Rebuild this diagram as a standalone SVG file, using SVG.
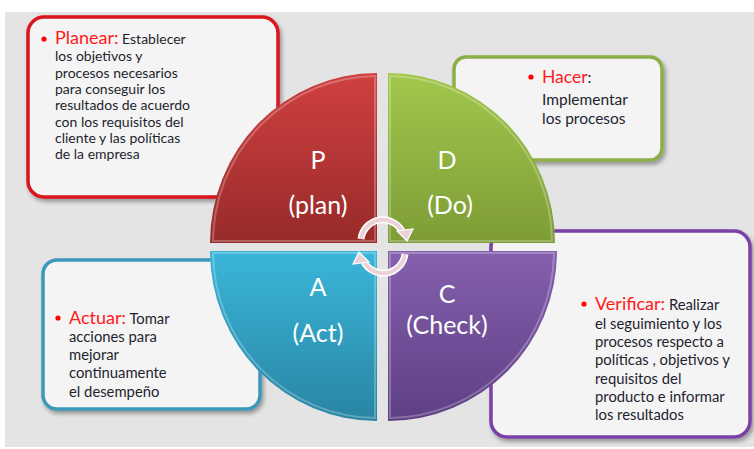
<svg xmlns="http://www.w3.org/2000/svg" width="754" height="449" viewBox="0 0 754 449">
<defs>
<style>
.box{fill:#f4f4f4;stroke-width:3.5}
.t{font-family:Lato,"Open Sans","Liberation Sans",sans-serif;fill:#1f1f2f}
.k{fill:#ff1a1a}
.q{font-family:Lato,"Open Sans","Liberation Sans",sans-serif;fill:#ffffff;font-size:25px;text-anchor:middle}
.bul{fill:#ff0000}
.arc{fill:none;stroke-linecap:butt}
</style>
<filter id="sh" x="-10%" y="-10%" width="130%" height="130%">
<feDropShadow dx="2" dy="3" stdDeviation="2" flood-color="#000" flood-opacity="0.35"/>
</filter>
<linearGradient id="gr" x1="0" y1="0" x2="0" y2="1"><stop offset="0" stop-color="#d04040"/><stop offset="1" stop-color="#982a2a"/></linearGradient>
<linearGradient id="gg" x1="0" y1="0" x2="0" y2="1"><stop offset="0" stop-color="#a2c84c"/><stop offset="1" stop-color="#7d9c37"/></linearGradient>
<linearGradient id="gb" x1="0" y1="0" x2="0" y2="1"><stop offset="0" stop-color="#3ab6da"/><stop offset="1" stop-color="#2985a3"/></linearGradient>
<linearGradient id="gp" x1="0" y1="0" x2="0" y2="1"><stop offset="0" stop-color="#8560ae"/><stop offset="1" stop-color="#5e3f84"/></linearGradient>
</defs>
<rect x="0" y="0" width="754" height="449" fill="#ffffff"/>
<rect x="5" y="12" width="749" height="435" fill="#e4e4e4"/>

<g id="box-plan" filter="url(#sh)">
<rect class="box" x="28" y="17" width="250" height="180" rx="16" stroke="#d9141c"/>
</g>
<g id="box-do" filter="url(#sh)">
<rect class="box" x="454" y="57" width="208" height="103" rx="12" stroke="#8bae47"/>
</g>
<g id="box-check" filter="url(#sh)">
<rect class="box" x="491" y="231" width="259" height="206" rx="16" stroke="#7a40a6"/>
</g>
<g id="box-act" filter="url(#sh)">
<rect class="box" x="43" y="260" width="217" height="149" rx="14" stroke="#3b98b8"/>
</g>

<g id="quad-p">
<path d="M377,243 L210,243 A167,170 0 0 1 377,73 Z" fill="url(#gr)"/>
<path d="M375,241 L213,241 A164,167 0 0 1 375,76 Z" fill="none" stroke="#ffffff" stroke-opacity="0.25" stroke-width="2"/>
</g>
<g id="quad-d">
<path d="M388,243 L388,73 A167,170 0 0 1 555,243 Z" fill="url(#gg)"/>
<path d="M390,241 L390,76 A164,167 0 0 1 552,241 Z" fill="none" stroke="#ffffff" stroke-opacity="0.25" stroke-width="2"/>
</g>
<g id="quad-a">
<path d="M377,251 L377,421 A167,170 0 0 1 210,251 Z" fill="url(#gb)"/>
<path d="M375,253 L375,418 A164,167 0 0 1 213,253 Z" fill="none" stroke="#ffffff" stroke-opacity="0.25" stroke-width="2"/>
</g>
<g id="quad-c">
<path d="M388,251 L557,251 A169,170 0 0 1 388,421 Z" fill="url(#gp)"/>
<path d="M390,253 L554,253 A166,167 0 0 1 390,418 Z" fill="none" stroke="#ffffff" stroke-opacity="0.25" stroke-width="2"/>
</g>

<g id="connectors">
<path class="arc" d="M361,239 A22,22 0 0 1 402,231" stroke="#ffffff" stroke-width="7"/>
<path class="arc" d="M361,239 A22,22 0 0 1 402,231" stroke="#ecd2d6" stroke-width="4"/>
<polygon points="397,231 413,229 407,241" fill="#ecd2d6" stroke="#ffffff" stroke-width="1.2"/>
<path class="arc" d="M405,254 A22,22 0 0 1 364,262" stroke="#ffffff" stroke-width="7"/>
<path class="arc" d="M405,254 A22,22 0 0 1 364,262" stroke="#ecd2d6" stroke-width="4"/>
<polygon points="369,262 353,264 359,252" fill="#ecd2d6" stroke="#ffffff" stroke-width="1.2"/>
</g>

<g id="labels">
<text class="q" x="318" y="169">P</text>
<text class="q" x="318" y="214">(plan)</text>
<text class="q" x="447" y="169">D</text>
<text class="q" x="450" y="214">(Do)</text>
<text class="q" x="318" y="296">A</text>
<text class="q" x="318" y="342">(Act)</text>
<text class="q" x="447" y="303">C</text>
<text class="q" x="447" y="334">(Check)</text>
</g>

<g id="text-plan" class="t" font-size="14">
<circle class="bul" cx="44" cy="39" r="2.6"/>
<text x="55" y="44"><tspan class="k" font-size="18">Planear:</tspan> Establecer</text>
<text x="55" y="61">los objetivos y</text>
<text x="55" y="78">procesos necesarios</text>
<text x="55" y="94">para conseguir los</text>
<text x="55" y="110">resultados de acuerdo</text>
<text x="55" y="127">con los requisitos del</text>
<text x="55" y="143">cliente y las políticas</text>
<text x="55" y="159">de la empresa</text>
</g>

<g id="text-do" class="t" font-size="15.5">
<circle class="bul" cx="531" cy="77" r="2.6"/>
<text x="542" y="83"><tspan class="k" font-size="17.5">Hacer</tspan>:</text>
<text x="542" y="105">Implementar</text>
<text x="542" y="124">los procesos</text>
</g>

<g id="text-check" class="t" font-size="14.8">
<circle class="bul" cx="584" cy="304" r="2.6"/>
<text x="595" y="310"><tspan class="k" font-size="18">Verificar:</tspan> Realizar</text>
<text x="595" y="329">el seguimiento y los</text>
<text x="595" y="347">procesos respecto a</text>
<text x="595" y="365">políticas , objetivos y</text>
<text x="595" y="384">requisitos del</text>
<text x="595" y="402">producto e informar</text>
<text x="595" y="420">los resultados</text>
</g>

<g id="text-act" class="t" font-size="14.8">
<circle class="bul" cx="58" cy="318" r="2.6"/>
<text x="69" y="324"><tspan class="k" font-size="18">Actuar:</tspan> Tomar</text>
<text x="69" y="342">acciones para</text>
<text x="69" y="360">mejorar</text>
<text x="69" y="378">continuamente</text>
<text x="69" y="397">el desempeño</text>
</g>
</svg>
